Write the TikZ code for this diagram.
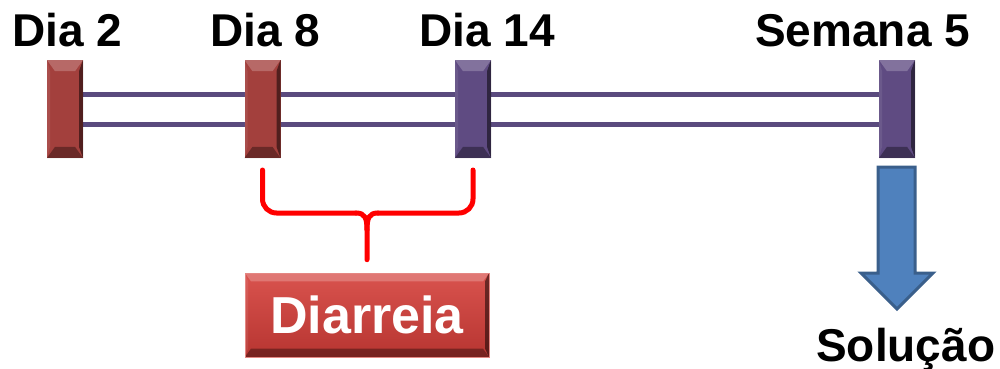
\documentclass[tikz,border=0pt]{standalone}
\usepackage{fontspec}
\setmainfont{Liberation Sans}
\usetikzlibrary{backgrounds}
\definecolor{barred}{HTML}{A3403D}
\definecolor{barpurple}{HTML}{5F4B82}
\definecolor{linepurple}{HTML}{5A4A7E}
\definecolor{bracered}{HTML}{FF0000}
\definecolor{boxtop}{HTML}{D9534E}
\definecolor{boxbot}{HTML}{B73531}
\definecolor{arrowblue}{HTML}{4F81BD}
\definecolor{arrowedge}{HTML}{3A5F8B}
\tikzset{
  bevel/.style={path picture={
    \fill[white,opacity=.22] (path picture bounding box.north west) -- (path picture bounding box.north east)
      -- ([shift={(-#1,#1*1.4)}]path picture bounding box.north east) -- ([shift={(#1,#1*1.4)}]path picture bounding box.north west) -- cycle;
    \fill[black,opacity=.35] (path picture bounding box.south west) -- (path picture bounding box.south east)
      -- ([shift={(-#1,-#1*1.4)}]path picture bounding box.south east) -- ([shift={(#1,-#1*1.4)}]path picture bounding box.south west) -- cycle;
    \fill[black,opacity=.5] (path picture bounding box.north east) -- ([shift={(-4,#1*1.4)}]path picture bounding box.north east)
      -- ([shift={(-4,-#1*1.4)}]path picture bounding box.south east) -- (path picture bounding box.south east) -- cycle;
    \fill[white,opacity=.08] (path picture bounding box.north west) -- ([shift={(3,#1*1.4)}]path picture bounding box.north west)
      -- ([shift={(3,-#1*1.4)}]path picture bounding box.south west) -- (path picture bounding box.south west) -- cycle;
  }},
  barbox/.style={fill=#1, draw=none, minimum width=36pt, minimum height=98pt, inner sep=0pt, outer sep=0pt, bevel=8},
  daylabel/.style={anchor=base west, inner sep=0pt, font=\bfseries\fontsize{46}{50}\selectfont},
  timeline/.style={draw=linepurple, line width=5pt},
  bracepath/.style={draw=bracered, line width=5pt, line cap=round, line join=round},
  diabox/.style={top color=boxtop, bottom color=boxbot, draw=boxtop!70!white, line width=0.6pt, minimum width=244pt, minimum height=84pt, inner sep=0pt, text=white, font=\bfseries\fontsize{52}{56}\selectfont, bevel=6}
}
\begin{document}
\begin{tikzpicture}[x=1pt,y=-1pt]
\useasboundingbox (0,0) rectangle (1000,368);
% bars
\node[barbox=barred] (b1) at (65,109) {};
\node[barbox=barred] (b2) at (262.5,109) {};
\node[barbox=barpurple] (b3) at (473,109) {};
\node[barbox=barpurple] (b4) at (897,109) {};
% lines behind bars
\begin{scope}[on background layer]
\draw[timeline] ([yshift=15pt]b1.east) -- ([yshift=15pt]b4.west);
\draw[timeline] ([yshift=-15pt]b1.east) -- ([yshift=-15pt]b4.west);
\end{scope}
% labels
\node[daylabel] (l1) at (12,46) {Dia 2};
\node[daylabel] (l2) at (210,46) {Dia 8};
\node[daylabel] (l3) at (419,46) {Dia 14};
\node[daylabel] (l4) at (755,46) {Semana 5};
% Diarreia box
\node[diabox] (dia) at (367,315) {Diarreia};
% brace
\coordinate (bl) at ([yshift=-12pt]b2.south);
\coordinate (br) at ([yshift=-12pt]b3.south);
\coordinate (bm) at ([yshift=13pt]dia.north);
\draw[bracepath, rounded corners=14pt] (bl) -- (bl |- 0,213) -- (356,213);
\draw[bracepath] (356,213) .. controls (365,213) and (367,218) .. (367,230) -- (bm);
\draw[bracepath, rounded corners=14pt] (br) -- (br |- 0,213) -- (378,213);
\draw[bracepath] (378,213) .. controls (369,213) and (367,218) .. (367,230);
% arrow
\filldraw[fill=arrowblue, draw=arrowedge, line width=3pt, line join=miter]
  (878,167) -- (915,167) -- (915,273) -- (933,273) -- (897,309) -- (861,273) -- (878,273) -- cycle;
\node[daylabel] (sol) at (816,361) {Solução};
\end{tikzpicture}
\end{document}
